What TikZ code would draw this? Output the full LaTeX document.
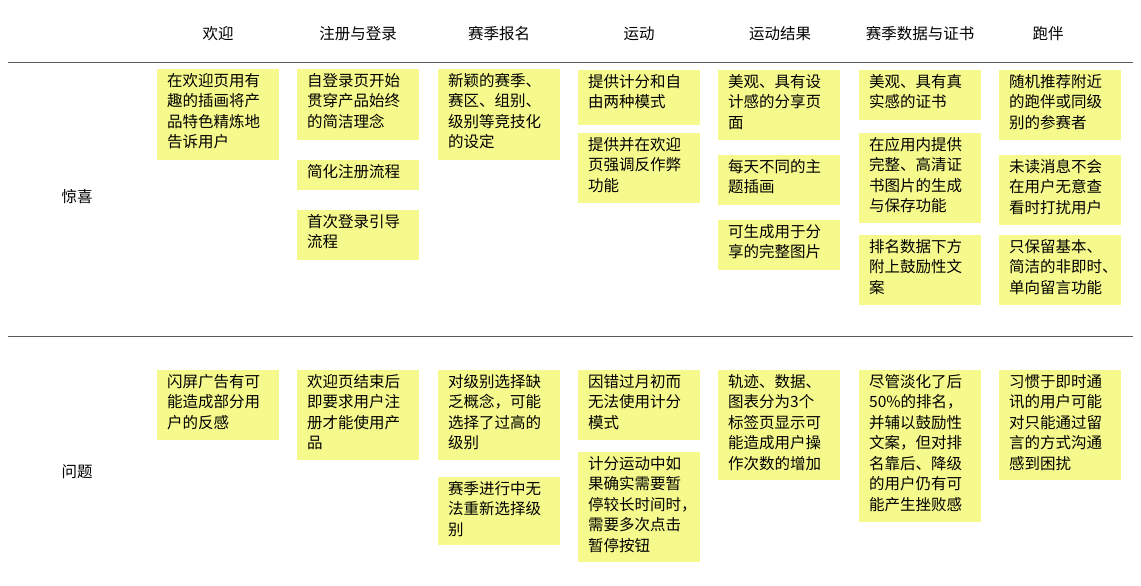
\documentclass[tikz,border=0pt]{standalone}
\usepackage{fontspec}
\setmainfont{Noto Sans CJK SC}
\definecolor{notey}{RGB}{246,250,140}
\definecolor{rulec}{RGB}{90,90,90}
\begin{document}
\begin{tikzpicture}[x=1pt,y=-1pt,
  note/.style={fill=notey,draw=none,anchor=north west,minimum width=122pt,inner sep=0pt},
  ntext/.style={anchor=north west,align=left,inner sep=0pt,font=\fontsize{15.5pt}{20.5pt}\selectfont,xshift=10pt,yshift=-4pt},
  head/.style={font=\fontsize{15.5pt}{18pt}\selectfont},
  sep/.style={draw=rulec,line width=0.8pt}]
\useasboundingbox (0,0) rectangle (1141,586);
% headers
\foreach \x/\t [count=\i] in {218/欢迎,358/注册与登录,499/赛季报名,639/运动,780/运动结果,920/赛季数据与证书,1048/跑伴}
  \node[head] (h\i) at (\x,34) {\t};
\node[head] (r1) at (77,197) {惊喜};
\node[head] (r2) at (77,472) {问题};
\coordinate (l1a) at (8,62); \coordinate (l1b) at (1133,62);
\coordinate (l2a) at (8,336); \coordinate (l2b) at (1133,336);
\draw[sep] (l1a) -- (l1b);
\draw[sep] (l2a) -- (l2b);
% notes: name/x/y/h/text
\foreach \n/\x/\y/\h/\t in {
 a1/157/69/91/{在欢迎页用有\\趣的插画将产\\品特色精炼地\\告诉用户},
 b1/297/69/71/{自登录页开始\\贯穿产品始终\\的简洁理念},
 b2/297/160/30/{简化注册流程},
 b3/297/210/50/{首次登录引导\\流程},
 c1/438/69/91/{新颖的赛季、\\赛区、组别、\\级别等竞技化\\的设定},
 d1/578/70/55/{提供计分和自\\由两种模式},
 d2/578/133/70/{提供并在欢迎\\页强调反作弊\\功能},
 e1/718/70/70/{美观、具有设\\计感的分享页\\面},
 e2/718/155/50/{每天不同的主\\题插画},
 e3/718/220/50/{可生成用于分\\享的完整图片},
 f1/859/70/50/{美观、具有真\\实感的证书},
 f2/859/133/90/{在应用内提供\\完整、高清证\\书图片的生成\\与保存功能},
 f3/859/235/70/{排名数据下方\\附上鼓励性文\\案},
 g1/999/70/70/{随机推荐附近\\的跑伴或同级\\别的参赛者},
 g2/999/155/70/{未读消息不会\\在用户无意查\\看时打扰用户},
 g3/999/235/70/{只保留基本、\\简洁的非即时、\\单向留言功能},
 a2/157/370/70/{闪屏广告有可\\能造成部分用\\户的反感},
 b4/297/370/90/{欢迎页结束后\\即要求用户注\\册才能使用产\\品},
 c2/438/370/90/{对级别选择缺\\乏概念，可能\\选择了过高的\\级别},
 c3/438/477/68/{赛季进行中无\\法重新选择级\\别},
 d3/578/370/70/{因错过月初而\\无法使用计分\\模式},
 d4/578/452/110/{计分运动中如\\果确实需要暂\\停较长时间时，\\需要多次点击\\暂停按钮},
 e4/718/370/110/{轨迹、数据、\\图表分为3个\\标签页显示可\\能造成用户操\\作次数的增加},
 f4/859/370/152/{尽管淡化了后\\50\%的排名，\\并辅以鼓励性\\文案，但对排\\名靠后、降级\\的用户仍有可\\能产生挫败感},
 g4/999/370/110/{习惯于即时通\\讯的用户可能\\对只能通过留\\言的方式沟通\\感到困扰}}
 {
  \node[note,minimum height=\h pt] (\n) at (\x,\y) {};
  \node[ntext] at (\n.north west) {\t};
 }
\end{tikzpicture}
\end{document}
